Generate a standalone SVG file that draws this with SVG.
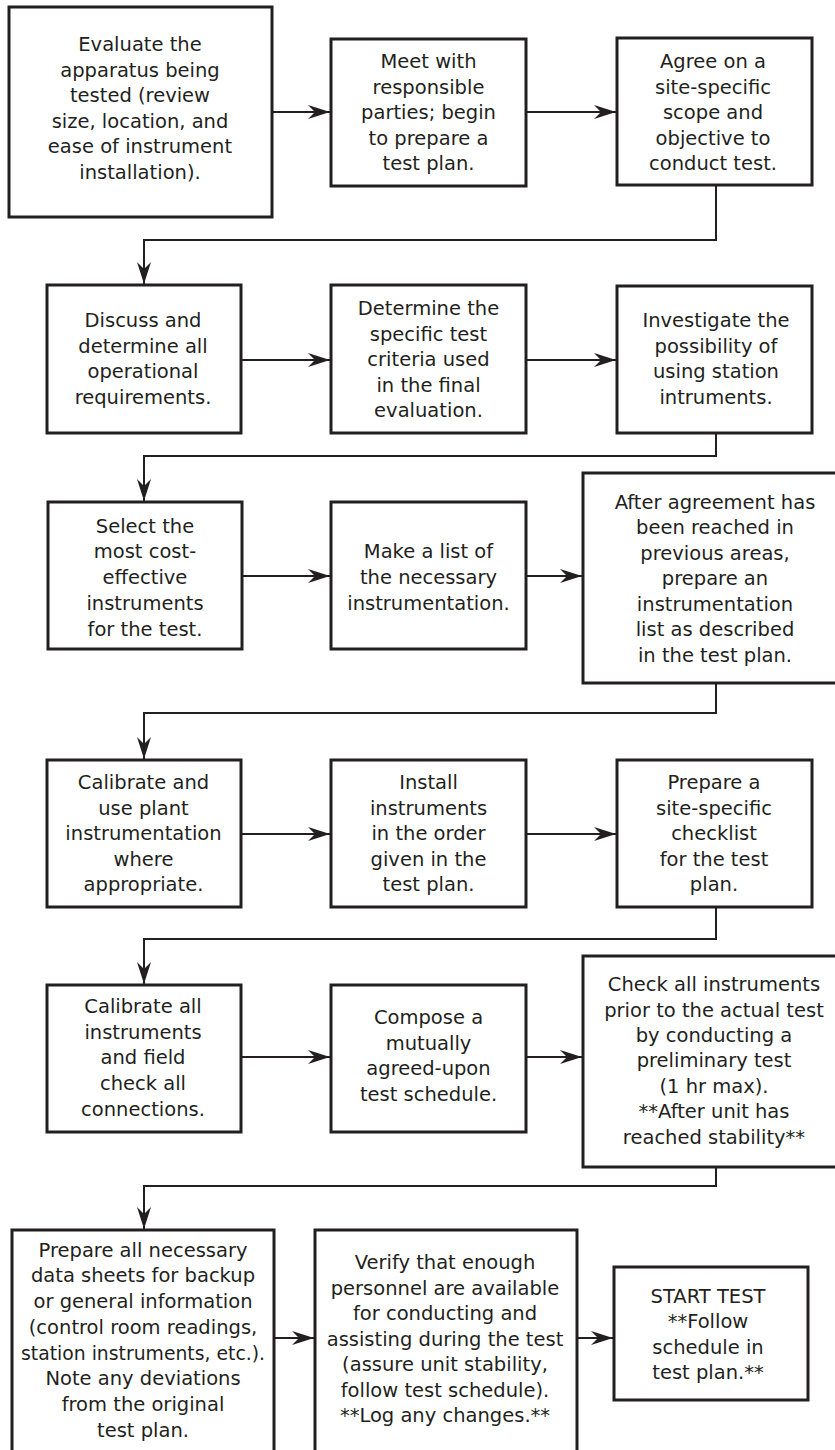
<svg xmlns="http://www.w3.org/2000/svg" width="835" height="1450" viewBox="0 0 835 1450">
<defs>
<style>
.box{fill:#fff;stroke:#231f20;stroke-width:3}
.t{font-family:"DejaVu Sans",Verdana,sans-serif;font-size:19.5px;fill:#231f20;text-anchor:middle}
.c{fill:none;stroke:#231f20;stroke-width:2}
</style>
<marker id="ah" markerUnits="userSpaceOnUse" markerWidth="26" markerHeight="18" viewBox="-24 -9 26 18" refX="0" refY="0" orient="auto">
<path d="M0,0 L-22,-7 L-15,0 L-22,7 Z" fill="#231f20"/>
</marker>
</defs>
<rect width="835" height="1450" fill="#fff"/>
<g id="connectors">
<line class="c" x1="272" y1="112" x2="330" y2="112" marker-end="url(#ah)"/>
<line class="c" x1="526" y1="112" x2="616" y2="112" marker-end="url(#ah)"/>
<polyline class="c" points="716,185 716,240 144,240 144,284" marker-end="url(#ah)"/>
<line class="c" x1="241" y1="360" x2="330" y2="360" marker-end="url(#ah)"/>
<line class="c" x1="526" y1="360" x2="616" y2="360" marker-end="url(#ah)"/>
<polyline class="c" points="716,433 716,456 144,456 144,501" marker-end="url(#ah)"/>
<line class="c" x1="242" y1="576" x2="330" y2="576" marker-end="url(#ah)"/>
<line class="c" x1="526" y1="576" x2="582" y2="576" marker-end="url(#ah)"/>
<polyline class="c" points="716,683 716,713 144,713 144,759" marker-end="url(#ah)"/>
<line class="c" x1="241" y1="834" x2="330" y2="834" marker-end="url(#ah)"/>
<line class="c" x1="526" y1="834" x2="616" y2="834" marker-end="url(#ah)"/>
<polyline class="c" points="716,907 716,939 144,939 144,984" marker-end="url(#ah)"/>
<line class="c" x1="241" y1="1057" x2="330" y2="1057" marker-end="url(#ah)"/>
<line class="c" x1="526" y1="1057" x2="582" y2="1057" marker-end="url(#ah)"/>
<polyline class="c" points="716,1167 716,1186 144,1186 144,1229" marker-end="url(#ah)"/>
<line class="c" x1="274" y1="1338" x2="314" y2="1338" marker-end="url(#ah)"/>
<line class="c" x1="577" y1="1338" x2="613" y2="1338" marker-end="url(#ah)"/>
</g>
<g id="n1"><rect class="box" x="9" y="7" width="263" height="210"/>
<text class="t" x="140" y="51">Evaluate the</text><text class="t" x="140" y="76.5">apparatus being</text><text class="t" x="140" y="102">tested (review</text><text class="t" x="140" y="127.5">size, location, and</text><text class="t" x="140" y="153">ease of instrument</text><text class="t" x="140" y="178.5">installation).</text></g>
<g id="n2"><rect class="box" x="331" y="39" width="195" height="147"/>
<text class="t" x="428.5" y="68">Meet with</text><text class="t" x="428.5" y="93.5">responsible</text><text class="t" x="428.5" y="119">parties; begin</text><text class="t" x="428.5" y="144.5">to prepare a</text><text class="t" x="428.5" y="170">test plan.</text></g>
<g id="n3"><rect class="box" x="617" y="38" width="195" height="147"/>
<text class="t" x="713" y="68">Agree on a</text><text class="t" x="713" y="93.5">site-specific</text><text class="t" x="713" y="119">scope and</text><text class="t" x="713" y="144.5">objective to</text><text class="t" x="713" y="170">conduct test.</text></g>
<g id="n4"><rect class="box" x="47" y="285" width="194" height="148"/>
<text class="t" x="143" y="327">Discuss and</text><text class="t" x="143" y="352.5">determine all</text><text class="t" x="143" y="378">operational</text><text class="t" x="143" y="403.5">requirements.</text></g>
<g id="n5"><rect class="box" x="331" y="285" width="195" height="148"/>
<text class="t" x="428.5" y="315">Determine the</text><text class="t" x="428.5" y="340.5">specific test</text><text class="t" x="428.5" y="366">criteria used</text><text class="t" x="428.5" y="391.5">in the final</text><text class="t" x="428.5" y="417">evaluation.</text></g>
<g id="n6"><rect class="box" x="617" y="286" width="195" height="147"/>
<text class="t" x="716" y="327">Investigate the</text><text class="t" x="716" y="352.5">possibility of</text><text class="t" x="716" y="378">using station</text><text class="t" x="716" y="403.5">intruments.</text></g>
<g id="n7"><rect class="box" x="48" y="502" width="194" height="147"/>
<text class="t" x="145" y="532.5">Select the</text><text class="t" x="145" y="558">most cost-</text><text class="t" x="145" y="584">effective</text><text class="t" x="145" y="610">instruments</text><text class="t" x="145" y="635.5">for the test.</text></g>
<g id="n8"><rect class="box" x="331" y="502" width="195" height="147"/>
<text class="t" x="428.5" y="558">Make a list of</text><text class="t" x="428.5" y="584">the necessary</text><text class="t" x="428.5" y="609.5">instrumentation.</text></g>
<g id="n9"><rect class="box" x="583" y="473" width="270" height="210"/>
<text class="t" x="715" y="508.5">After agreement has</text><text class="t" x="715" y="534">been reached in</text><text class="t" x="715" y="559.5">previous areas,</text><text class="t" x="715" y="585">prepare an</text><text class="t" x="715" y="610.5">instrumentation</text><text class="t" x="715" y="636">list as described</text><text class="t" x="715" y="661.5">in the test plan.</text></g>
<g id="n10"><rect class="box" x="47" y="760" width="194" height="147"/>
<text class="t" x="143.5" y="789">Calibrate and</text><text class="t" x="143.5" y="814.5">use plant</text><text class="t" x="143.5" y="840">instrumentation</text><text class="t" x="143.5" y="865.5">where</text><text class="t" x="143.5" y="891">appropriate.</text></g>
<g id="n11"><rect class="box" x="331" y="760" width="195" height="147"/>
<text class="t" x="428.5" y="789">Install</text><text class="t" x="428.5" y="814.5">instruments</text><text class="t" x="428.5" y="840">in the order</text><text class="t" x="428.5" y="865.5">given in the</text><text class="t" x="428.5" y="891">test plan.</text></g>
<g id="n12"><rect class="box" x="617" y="760" width="195" height="147"/>
<text class="t" x="714" y="789">Prepare a</text><text class="t" x="714" y="814.5">site-specific</text><text class="t" x="714" y="840">checklist</text><text class="t" x="714" y="865.5">for the test</text><text class="t" x="714" y="891">plan.</text></g>
<g id="n13"><rect class="box" x="47" y="985" width="194" height="147"/>
<text class="t" x="143" y="1013">Calibrate all</text><text class="t" x="143" y="1038.5">instruments</text><text class="t" x="143" y="1064">and field</text><text class="t" x="143" y="1090">check all</text><text class="t" x="143" y="1115.5">connections.</text></g>
<g id="n14"><rect class="box" x="331" y="985" width="195" height="147"/>
<text class="t" x="428.5" y="1024">Compose a</text><text class="t" x="428.5" y="1049.5">mutually</text><text class="t" x="428.5" y="1075">agreed-upon</text><text class="t" x="428.5" y="1100.5">test schedule.</text></g>
<g id="n15"><rect class="box" x="583" y="956" width="270" height="211"/>
<text class="t" x="714" y="991">Check all instruments</text><text class="t" x="714" y="1016.5">prior to the actual test</text><text class="t" x="714" y="1042">by conducting a</text><text class="t" x="714" y="1067">preliminary test</text><text class="t" x="714" y="1092.5">(1 hr max).</text><text class="t" x="714" y="1118">**After unit has</text><text class="t" x="714" y="1143.5">reached stability**</text></g>
<g id="n16"><rect class="box" x="12" y="1230" width="262" height="240"/>
<text class="t" x="143" y="1256.5">Prepare all necessary</text><text class="t" x="143" y="1282">data sheets for backup</text><text class="t" x="143" y="1308">or general information</text><text class="t" x="143" y="1334">(control room readings,</text><text class="t" x="143" y="1359.5" textLength="244" lengthAdjust="spacingAndGlyphs">station instruments, etc.).</text><text class="t" x="143" y="1385">Note any deviations</text><text class="t" x="143" y="1411">from the original</text><text class="t" x="143" y="1436.5">test plan.</text></g>
<g id="n17"><rect class="box" x="315" y="1230" width="262" height="240"/>
<text class="t" x="445" y="1269">Verify that enough</text><text class="t" x="445" y="1294.5">personnel are available</text><text class="t" x="445" y="1320">for conducting and</text><text class="t" x="445" y="1345.5">assisting during the test</text><text class="t" x="445" y="1371">(assure unit stability,</text><text class="t" x="445" y="1396.5">follow test schedule).</text><text class="t" x="445" y="1422">**Log any changes.**</text></g>
<g id="n18"><rect class="box" x="614" y="1267" width="194" height="133"/>
<text class="t" x="708" y="1302.5">START TEST</text><text class="t" x="708" y="1328">**Follow</text><text class="t" x="708" y="1353.5">schedule in</text><text class="t" x="708" y="1379">test plan.**</text></g>
</svg>
